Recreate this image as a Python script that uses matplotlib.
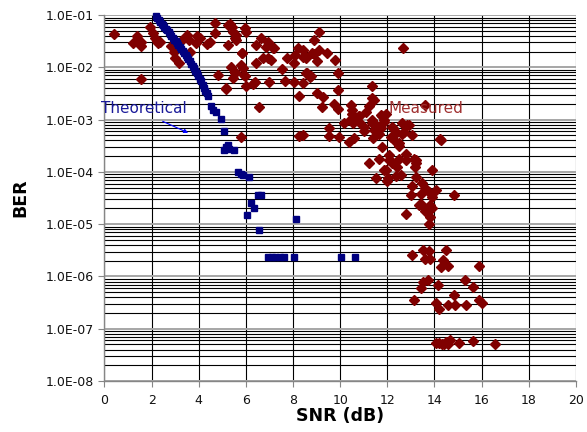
import numpy as np
import matplotlib
matplotlib.use("Agg")
import matplotlib.pyplot as plt
from matplotlib.ticker import FixedLocator, FuncFormatter, NullLocator

# ---- data ----
theory_snr = [2.18, 2.24, 2.30, 2.36, 2.42, 2.48, 2.54, 2.60, 2.66, 2.72, 2.78, 2.84,
              2.90, 2.96, 3.02, 3.08, 3.14, 3.20, 3.26, 3.32, 3.38, 3.44, 3.50, 3.56,
              3.62, 3.68, 3.74, 3.80, 3.86, 3.92, 3.98, 4.04, 4.10, 4.16, 4.22, 4.28,
              4.34, 4.40, 4.53, 4.62, 4.72, 4.96, 5.05, 5.05, 5.14, 5.24, 5.30, 5.50,
              5.66, 5.80, 5.87, 6.15, 6.04, 6.22, 6.34, 6.50, 6.65, 6.55, 6.93, 7.10,
              7.25, 7.45, 7.63, 8.05, 8.13, 10.05, 10.63]
theory_ber = [9.5e-2, 8.8e-2, 8.1e-2, 7.5e-2, 6.9e-2, 6.4e-2, 5.9e-2, 5.5e-2, 5.1e-2,
              4.7e-2, 4.3e-2, 4.0e-2, 3.7e-2, 3.4e-2, 3.15e-2, 2.9e-2, 2.65e-2, 2.45e-2,
              2.25e-2, 2.05e-2, 1.9e-2, 1.75e-2, 1.6e-2, 1.45e-2, 1.3e-2, 1.18e-2,
              1.07e-2, 9.7e-3, 8.7e-3, 7.8e-3, 6.9e-3, 6.1e-3, 5.4e-3, 4.7e-3, 4.1e-3,
              3.6e-3, 3.2e-3, 2.8e-3, 1.8e-3, 1.55e-3, 1.4e-3, 1.05e-3, 6.2e-4, 2.6e-4,
              3.0e-4, 3.3e-4, 2.8e-4, 2.6e-4, 1.0e-4, 9.0e-5, 8.6e-5, 8.1e-5, 1.5e-5,
              2.5e-5, 2.0e-5, 3.6e-5, 3.6e-5, 7.6e-6, 2.4e-6, 2.4e-6, 2.4e-6, 2.4e-6,
              2.4e-6, 2.4e-6, 1.25e-5, 2.4e-6, 2.4e-6]

meas_snr = [0.40, 1.40, 1.22, 1.57, 1.57, 1.92, 2.06, 2.14, 2.23, 2.35, 2.28, 1.53,
            2.81, 2.94, 3.01, 3.15, 3.50, 3.59, 3.31, 3.62, 3.92, 4.04, 3.90, 4.67,
            4.71, 4.46, 4.35, 4.81, 5.14, 5.24, 5.24, 5.31, 5.41, 5.45, 5.59, 5.98,
            6.01, 5.52, 5.84, 5.35, 5.80, 5.87, 5.52, 5.97, 5.45, 6.01, 6.32, 6.39,
            6.96, 6.57, 6.65, 6.43, 6.86, 7.14, 6.72, 6.93, 7.07, 6.41, 5.80, 5.59,
            5.83, 6.93, 7.18, 7.75, 7.52, 8.05, 8.08, 8.22, 8.41, 8.55, 8.87, 9.11,
            8.90, 9.11, 9.01, 9.46, 9.79, 9.89, 9.92, 5.52, 5.94, 6.36, 7.66, 8.05,
            8.41, 8.59, 8.73, 9.01, 8.27, 9.29, 5.17, 8.41, 9.25, 9.75, 9.53, 9.96,
            10.45, 10.49, 10.17, 10.55, 10.80, 11.09, 11.23, 11.01, 11.37, 11.37,
            10.38, 11.40, 11.37, 13.59, 10.45, 10.80, 11.01, 11.37, 11.72, 11.86,
            11.44, 11.72, 12.21, 12.63, 12.85, 13.06, 12.71, 12.33, 12.29, 14.26,
            10.59, 11.23, 11.93, 12.07, 12.20, 12.42, 12.49, 12.78, 13.20, 13.17,
            13.90, 11.51, 12.04, 12.36, 13.20, 13.06, 13.48, 13.59, 14.05, 13.76,
            14.82, 12.99, 13.90, 13.41, 13.83, 13.45, 13.62, 13.90, 12.78, 13.83,
            13.76, 13.06, 13.52, 13.79, 14.50, 13.62, 13.83, 14.38, 14.58, 14.26,
            15.91, 13.51, 13.73, 13.44, 14.14, 15.31, 15.62, 13.13, 14.07, 14.19,
            14.58, 14.89, 15.36, 14.82, 15.88, 16.00, 14.05, 14.19, 14.33, 14.50,
            14.64, 14.58, 15.03, 15.62, 16.58, 14.41, 11.79, 11.93, 11.86, 11.51,
            12.24, 12.36, 12.15, 12.92, 12.63, 12.49, 11.79, 12.07, 12.15, 12.49,
            12.78, 13.13, 13.20, 11.65, 11.65, 11.86, 12.57, 12.00, 14.23, 13.34,
            8.44, 8.80, 8.55, 8.76, 9.89, 10.52, 10.80, 11.44, 9.53, 12.66, 8.27]
meas_ber = [4.3e-2, 4.0e-2, 2.9e-2, 3.0e-2, 2.6e-2, 5.8e-2, 4.6e-2, 3.6e-2, 3.2e-2,
            3.1e-2, 2.9e-2, 6.0e-3, 2.6e-2, 2.0e-2, 1.5e-2, 1.2e-2, 4.1e-2, 3.3e-2,
            3.4e-2, 2.0e-2, 4.0e-2, 3.7e-2, 2.9e-2, 7.1e-2, 4.5e-2, 3.1e-2, 2.8e-2,
            7.3e-3, 4.1e-3, 6.4e-2, 2.7e-2, 6.9e-2, 6.0e-2, 4.8e-2, 4.1e-2, 5.7e-2,
            4.7e-2, 3.6e-2, 1.85e-2, 1.02e-2, 1.1e-2, 9.6e-3, 7.7e-3, 6.8e-3, 6.2e-3,
            4.5e-3, 4.8e-3, 5.2e-3, 5.2e-3, 1.77e-3, 3.6e-2, 2.7e-2, 2.5e-2, 2.3e-2,
            1.5e-2, 1.5e-2, 1.4e-2, 1.2e-2, 4.7e-4, 3.3e-2, 1.9e-2, 3.1e-2, 2.4e-2,
            1.5e-2, 9.5e-3, 1.2e-2, 1.7e-2, 2.4e-2, 2.15e-2, 1.5e-2, 3.3e-2, 4.8e-2,
            1.8e-2, 2.15e-2, 1.3e-2, 1.9e-2, 1.4e-2, 7.7e-3, 3.7e-3, 8.2e-3, 7.1e-3,
            5.0e-3, 5.6e-3, 5.2e-3, 5.0e-3, 7.9e-3, 6.6e-3, 3.2e-3, 2.8e-3, 2.7e-3,
            3.9e-3, 5.2e-4, 1.77e-3, 2.0e-3, 4.9e-4, 4.7e-4, 1.9e-3, 1.3e-3, 8.5e-4,
            8.5e-4, 1.15e-3, 1.4e-3, 1.8e-3, 6.1e-4, 9.7e-4, 4.5e-3, 3.7e-4, 4.4e-4,
            2.6e-3, 1.9e-3, 1.05e-3, 9.2e-4, 7.3e-4, 8.5e-4, 1.25e-3, 9.2e-4, 6.3e-4,
            6.8e-4, 7.3e-4, 8.5e-4, 7.9e-4, 5.0e-4, 5.8e-4, 5.4e-4, 4.0e-4, 4.0e-4,
            4.4e-4, 1.46e-4, 1.1e-4, 1.7e-4, 1.46e-4, 1.26e-4, 3.2e-4, 1.7e-4, 1.7e-4,
            1.26e-4, 1.1e-4, 7.5e-5, 7.5e-5, 8.4e-5, 7.9e-5, 5.5e-5, 6.2e-5, 4.9e-5,
            4.6e-5, 4.2e-5, 3.6e-5, 3.6e-5, 3.3e-5, 2.4e-5, 2.3e-5, 3.8e-5, 1.77e-5,
            2.0e-5, 1.6e-5, 1.4e-5, 1.0e-5, 2.6e-6, 3.2e-6, 3.1e-6, 3.2e-6, 2.2e-6,
            2.2e-6, 2.1e-6, 1.6e-6, 1.5e-6, 1.6e-6, 8.0e-7, 8.6e-7, 5.9e-7, 6.9e-7,
            8.6e-7, 6.2e-7, 3.5e-7, 3.1e-7, 2.4e-7, 2.9e-7, 2.9e-7, 2.9e-7, 4.4e-7,
            3.5e-7, 3.1e-7, 5.4e-8, 5.3e-8, 5.1e-8, 5.6e-8, 6.0e-8, 5.2e-8, 5.3e-8,
            5.8e-8, 5.1e-8, 5.0e-8, 1.2e-3, 1.3e-3, 1.0e-3, 7.9e-4, 6.8e-4, 5.8e-4,
            4.7e-4, 7.9e-4, 5.4e-4, 3.5e-4, 3.0e-4, 2.1e-4, 1.6e-4, 1.8e-4, 2.2e-4,
            1.8e-4, 1.46e-4, 1.8e-4, 5.4e-4, 1.1e-4, 8.6e-5, 6.8e-5, 4.2e-4, 2.3e-5,
            1.55e-2, 1.85e-2, 7.7e-3, 6.8e-3, 1.6e-3, 1.5e-3, 1.2e-3, 2.4e-3, 6.8e-4,
            2.4e-2, 4.9e-4]

x_ticks = [0, 2, 4, 6, 8, 10, 12, 14, 16, 18, 20]
y_decades = [1e-8, 1e-7, 1e-6, 1e-5, 1e-4, 1e-3, 1e-2, 1e-1]

NAVY = "#000080"
MAROON = "#800000"
GREY = "#868686"

fig = plt.figure(figsize=(5.87, 4.32), dpi=100)
ax = fig.add_axes([0.178, 0.118, 0.803, 0.847])

ax.set_yscale("log")
ax.set_xlim(0, 20)
ax.set_ylim(1e-8, 1e-1)

# Excel-style grid: black verticals, black minor horizontals, grey decade lines
for xv in x_ticks:
    ax.axvline(xv, color="black", lw=0.8, zorder=1)
for dec in y_decades[:-1]:
    for m in range(2, 10):
        ax.axhline(dec * m, color="black", lw=0.8, zorder=1)
for dec in y_decades:
    ax.axhline(dec, color="#a6a6a6", lw=1.4, zorder=1.1)

ax.plot(meas_snr, meas_ber, ls="none", marker="D", ms=5.6, color=MAROON,
        mec=MAROON, zorder=3, clip_on=False)
ax.plot(theory_snr, theory_ber, ls="none", marker="s", ms=5, color=NAVY,
        mec=NAVY, zorder=4, clip_on=False)

ax.text(-0.15, 1.65e-3, "Theoretical", color="#1a1a99", fontsize=11, va="center")
ax.annotate("", xy=(3.55, 5.6e-4), xytext=(2.47, 9.3e-4),
            arrowprops=dict(arrowstyle="-|>", color="#0000ff", lw=0.8,
                            mutation_scale=6, shrinkA=0, shrinkB=0))
ax.text(12.07, 1.65e-3, "Measured", color="#a03030", fontsize=11, va="center")

for s in ("top", "right"):
    ax.spines[s].set_visible(False)
for s in ("left", "bottom"):
    ax.spines[s].set_color(GREY)
    ax.spines[s].set_linewidth(1.0)

ax.xaxis.set_major_locator(FixedLocator(x_ticks))
ax.yaxis.set_major_locator(FixedLocator(y_decades))
ax.yaxis.set_minor_locator(NullLocator())
ax.tick_params(axis="both", which="major", direction="out", length=4,
               color=GREY, labelsize=9, labelcolor="#111111")
ax.tick_params(axis="x", pad=5)
ax.yaxis.set_major_formatter(FuncFormatter(lambda v, p: "%.1E" % v))

ax.set_xlabel("SNR (dB)", fontsize=12.5, fontweight="bold", labelpad=0)
ax.set_ylabel("BER", fontsize=12.5, fontweight="bold", labelpad=12)

fig.savefig("out.png", dpi=100)
